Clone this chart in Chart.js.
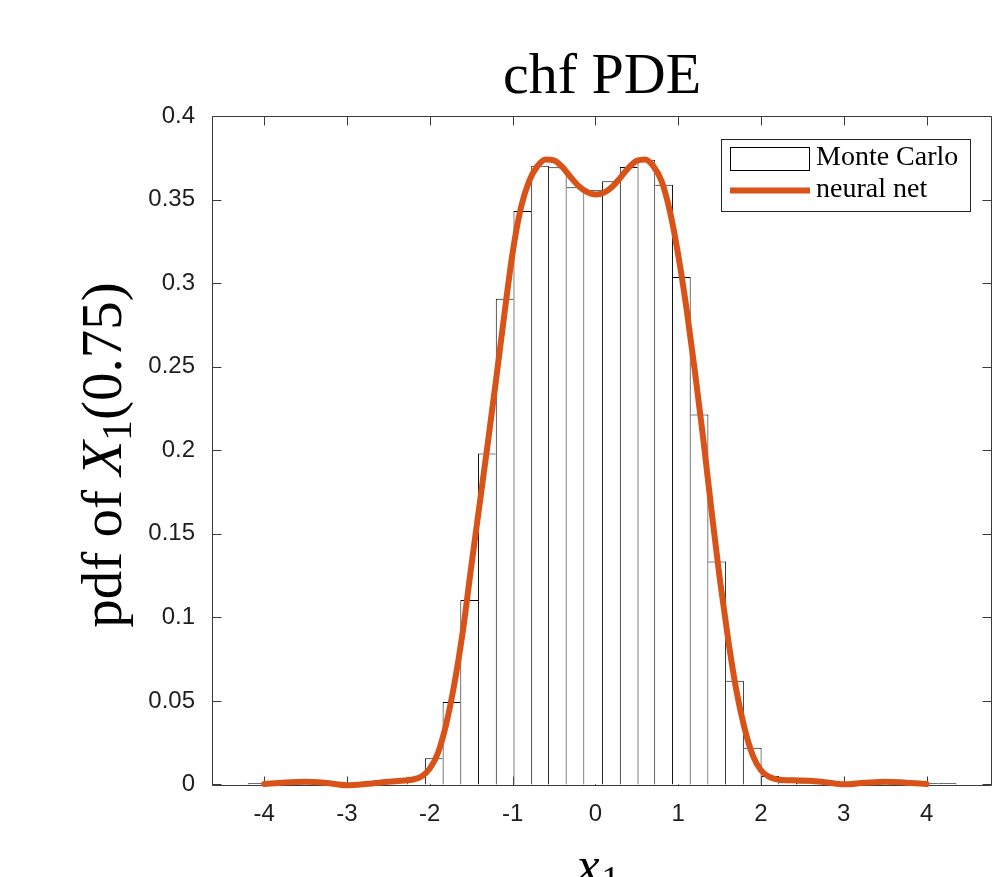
<!DOCTYPE html>
<html>
<head>
<meta charset="utf-8">
<title>chf PDE</title>
<script src="https://cdn.jsdelivr.net/npm/chart.js@4.4.1/dist/chart.umd.min.js"></script>
<style>
    body { margin: 0; padding: 0; background: #fff; }
    #chart-box { position: relative; width: 1005px; height: 877px; }
</style>
</head>
<body>
<div id="chart-box"><canvas id="pdfChart"></canvas></div>
<script>
// chf PDE — Monte Carlo histogram vs neural net pdf of X1 at t = 0.75

// ── Data ─────────────────────────────────────────────────────────────────────
// Histogram bin centres (bin width ~0.214) and bar heights (Monte Carlo)
const binCenters = [
    -4.092, -3.878, -3.664, -3.450, -3.236, -3.022, -2.808, -2.594, -2.380, -2.166,
    -1.952, -1.738, -1.524, -1.310, -1.096, -0.882, -0.668, -0.454, -0.240, -0.026,
     0.188,  0.402,  0.616,  0.830,  1.044,  1.258,  1.472,  1.686,  1.900,  2.114,
     2.328,  2.542,  2.756,  2.970,  3.184,  3.398,  3.612,  3.826,  4.040,  4.254
];
const mcHeights = [
    0.0007, 0.0004, 0.0005, 0.0006, 0.0005, 0.0007, 0.0009, 0.0013, 0.0022, 0.0047,
    0.0157, 0.0494, 0.1104, 0.1980, 0.2906, 0.3431, 0.3702, 0.3693, 0.3573, 0.3555,
    0.3609, 0.3695, 0.3738, 0.3589, 0.3036, 0.2214, 0.1334, 0.0621, 0.0220, 0.0051,
    0.0014, 0.0008, 0.0006, 0.0005, 0.0006, 0.0005, 0.0005, 0.0006, 0.0007, 0.0007
];

// Neural net density
const nnX = [
    -4.0, -3.75, -3.5, -3.25, -3.0, -2.75, -2.5, -2.3, -2.2, -2.1,
    -2.0, -1.9, -1.8, -1.7, -1.6, -1.5, -1.4, -1.3, -1.2, -1.1,
    -1.0, -0.9, -0.8, -0.7, -0.6, -0.5, -0.4, -0.3, -0.2, -0.1,
     0.0,  0.1,  0.2,  0.3,  0.4,  0.5,  0.6,  0.7,  0.8,  0.9,
     1.0,  1.1,  1.2,  1.3,  1.4,  1.5,  1.6,  1.7,  1.8,  1.9,
     2.0,  2.1,  2.2,  2.4,  2.6,  2.8,  3.0,  3.25, 3.5,  3.75, 4.0
];
const nnY = [
    0.0003, 0.0012, 0.0016, 0.0009, -0.0004, 0.0004, 0.0016, 0.0024, 0.0030, 0.0048,
    0.0095, 0.0190, 0.0365, 0.0610, 0.0920, 0.1300, 0.1670, 0.2040, 0.2420, 0.2810,
    0.3180, 0.3450, 0.3610, 0.3700, 0.3740, 0.3735, 0.3695, 0.3635, 0.3580, 0.3545,
    0.3530, 0.3540, 0.3575, 0.3630, 0.3690, 0.3732, 0.3740, 0.3700, 0.3610, 0.3430,
    0.3170, 0.2850, 0.2480, 0.2080, 0.1650, 0.1240, 0.0880, 0.0570, 0.0340, 0.0175,
    0.0085, 0.0045, 0.0030, 0.0025, 0.0023, 0.0012, 0.0001, 0.0010, 0.0017, 0.0011, 0.0003
];

// Axis ticks
const xTickVals   = [-4, -3, -2, -1, 0, 1, 2, 3, 4];
const xTickLabels = ['-4', '-3', '-2', '-1', '0', '1', '2', '3', '4'];
const yTickVals   = [0, 0.05, 0.1, 0.15, 0.2, 0.25, 0.3, 0.35, 0.4];
const yTickLabels = ['0', '0.05', '0.1', '0.15', '0.2', '0.25', '0.3', '0.35', '0.4'];

const ORANGE = '#D95319';
const AXIS   = '#3a3a3a';
const SERIF  = '"Liberation Serif", "Times New Roman", serif';
const SANS   = '"Liberation Sans", Arial, Helvetica, sans-serif';

// ── Plugins ──────────────────────────────────────────────────────────────────
// MATLAB-style box with inward ticks on all four sides (drawn under the data)
const boxAxes = {
    id: 'boxAxes',
    beforeDatasetsDraw(chart) {
        const { ctx, chartArea: a, scales: { x, y } } = chart;
        const L = Math.round(a.left) + 0.5, R = Math.round(a.right) - 0.5;
        const T = Math.round(a.top) + 0.5,  B = Math.round(a.bottom) - 0.5;
        const tl = 9;
        ctx.save();
        ctx.strokeStyle = AXIS;
        ctx.lineWidth = 1;
        ctx.beginPath();
        ctx.rect(L, T, R - L, B - T);
        xTickVals.forEach(v => {
            const px = Math.round(x.getPixelForValue(v)) + 0.5;
            ctx.moveTo(px, B); ctx.lineTo(px, B - tl);
            ctx.moveTo(px, T); ctx.lineTo(px, T + tl);
        });
        yTickVals.forEach(v => {
            const py = Math.round(y.getPixelForValue(v)) + 0.5;
            ctx.moveTo(L, py); ctx.lineTo(L + tl, py);
            ctx.moveTo(R, py); ctx.lineTo(R - tl, py);
        });
        ctx.stroke();
        ctx.restore();
    }
};

// Title, axis labels (LaTeX-ish) and the boxed legend
const labelsAndLegend = {
    id: 'labelsAndLegend',
    afterDraw(chart) {
        const { ctx, chartArea: a } = chart;
        const cx = (a.left + a.right) / 2;
        ctx.save();
        ctx.fillStyle = '#000';
        ctx.textBaseline = 'alphabetic';

        // title
        ctx.font = `58px ${SERIF}`;
        ctx.textAlign = 'center';
        ctx.fillText('chf PDE', cx, 93);

        // x label: x_1
        ctx.textAlign = 'left';
        ctx.font = `italic 52px ${SERIF}`;
        const wx = ctx.measureText('x').width;
        ctx.font = `36px ${SERIF}`;
        const w1 = ctx.measureText('1').width;
        let sx = cx - 4 - (wx + 2 + w1) / 2;
        ctx.font = `italic 52px ${SERIF}`;
        ctx.fillText('x', sx, 883);
        ctx.font = `36px ${SERIF}`;
        ctx.fillText('1', sx + wx + 2, 891);

        // y label: pdf of X_1(0.75), rotated
        const parts = [
            { t: 'pdf of ', f: `57px ${SERIF}`, dy: 0 },
            { t: 'X', f: `italic 57px ${SERIF}`, dy: 0 },
            { t: '1', f: `42px ${SERIF}`, dy: 10 },
            { t: '(0.75)', f: `57px ${SERIF}`, dy: 0 }
        ];
        let total = 0;
        parts.forEach(p => { ctx.font = p.f; p.w = ctx.measureText(p.t).width; total += p.w; });
        ctx.translate(121, (a.top + a.bottom) / 2 + 4);
        ctx.rotate(-Math.PI / 2);
        let px = -total / 2;
        parts.forEach(p => { ctx.font = p.f; ctx.fillText(p.t, px, p.dy); px += p.w; });
        ctx.setTransform(1, 0, 0, 1, 0, 0);

        // legend
        ctx.fillStyle = '#fff';
        ctx.strokeStyle = '#262626';
        ctx.lineWidth = 1;
        ctx.fillRect(721.5, 139.5, 249, 72);
        ctx.strokeRect(721.5, 139.5, 249, 72);
        ctx.strokeStyle = '#000';
        ctx.strokeRect(730.5, 147.5, 79, 23);
        ctx.strokeStyle = ORANGE;
        ctx.lineWidth = 6;
        ctx.beginPath();
        ctx.moveTo(730, 190.5); ctx.lineTo(810, 190.5);
        ctx.stroke();
        ctx.fillStyle = '#000';
        ctx.font = `28px ${SERIF}`;
        ctx.textAlign = 'left';
        ctx.fillText('Monte Carlo', 816, 165);
        ctx.fillText('neural net', 816, 197);
        ctx.restore();
    }
};

// ── Chart ────────────────────────────────────────────────────────────────────
// Each shared bar edge is drawn once, by the taller of the two bars
function barBorder(c) {
    const i = c.dataIndex;
    const h = mcHeights[i];
    const prev = i > 0 ? mcHeights[i - 1] : -1;
    const next = i < mcHeights.length - 1 ? mcHeights[i + 1] : -1;
    return { top: 1, left: h >= prev ? 1 : 0, right: h > next ? 1 : 0, bottom: 0 };
}

new Chart(document.getElementById('pdfChart').getContext('2d'), {
    type: 'bar',
    data: {
        datasets: [
            {
                type: 'line',
                label: 'neural net',
                data: nnX.map((v, i) => ({ x: v, y: nnY[i] })),
                borderColor: ORANGE,
                borderWidth: 6,
                pointRadius: 0,
                cubicInterpolationMode: 'monotone',
                borderJoinStyle: 'round',
                borderCapStyle: 'round',
                clip: false,
                order: 0
            },
            {
                type: 'bar',
                label: 'Monte Carlo',
                data: binCenters.map((v, i) => ({ x: v, y: mcHeights[i] })),
                backgroundColor: '#fff',
                borderColor: '#000',
                borderWidth: barBorder,
                borderSkipped: false,
                inflateAmount: 0,
                barPercentage: 1,
                categoryPercentage: 1,
                order: 1
            }
        ]
    },
    options: {
        responsive: true,
        maintainAspectRatio: false,
        animation: false,
        layout: { padding: { top: 116, right: 13, bottom: 0, left: 0 } },
        plugins: {
            legend: { display: false },
            tooltip: { enabled: false }
        },
        scales: {
            x: {
                type: 'linear',
                min: -4.63,
                max: 4.79,
                offset: false,
                grid: { display: false, drawTicks: false },
                border: { display: false },
                afterBuildTicks: s => { s.ticks = xTickVals.map(v => ({ value: v })); },
                afterFit: s => { s.height = 91; },
                ticks: {
                    autoSkip: false,
                    maxRotation: 0,
                    padding: 14,
                    color: '#1e1e1e',
                    font: { family: SANS, size: 24 },
                    callback: (v, i) => xTickLabels[i]
                }
            },
            y: {
                min: -0.0009,
                max: 0.4,
                grid: { display: false, drawTicks: false },
                border: { display: false },
                afterBuildTicks: s => { s.ticks = yTickVals.map(v => ({ value: v })); },
                afterFit: s => { s.width = 212; },
                ticks: {
                    padding: 17,
                    color: '#1e1e1e',
                    font: { family: SANS, size: 24 },
                    callback: (v, i) => yTickLabels[i]
                }
            }
        }
    },
    plugins: [boxAxes, labelsAndLegend]
});
</script>
</body>
</html>
